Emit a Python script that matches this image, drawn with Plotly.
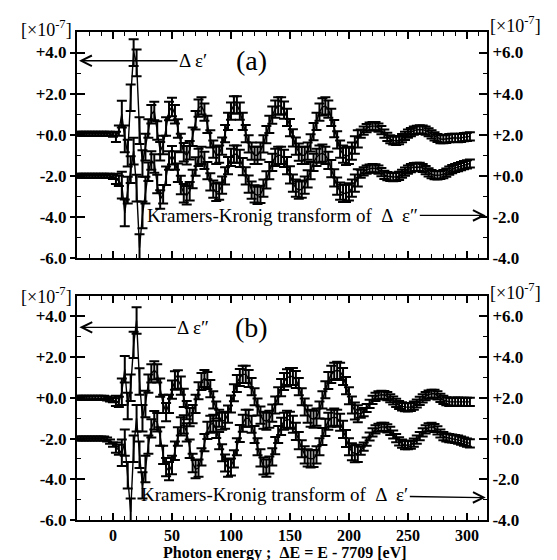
import plotly.graph_objects as go

# Energy grid of the measured points (eV, relative to E0 = 7709 eV)
E_START, E_STEP, N_PTS = -30.0, 2.5, 134
energy = [E_START + E_STEP * i for i in range(N_PTS)]

# Panel (a): measured delta-eps' (left axis, x1e-7)
d_eps1 = [
    0.05, 0.05, 0.05, 0.05, 0.05, 0.05, 0.05, 0.05, 0.05, 0.05,
    0.05, 0.05, 0.0, -0.1, 0.2, 1.0, -0.2, -0.9, 1.8, 4.0,
    3.5, 0.2, -1.4, -0.6, 0.3, 1.0, 1.15, 0.2, -0.8, -0.5,
    0.4, 1.15, 1.35, 1.0, 0.3, -0.4, -0.85, -1.0, -0.75, -0.1,
    0.7, 1.3, 1.4, 1.1, 0.5, -0.2, -0.7, -1.0, -0.95, -0.55,
    0.05, 0.65, 1.15, 1.45, 1.45, 1.15, 0.65, 0.05, -0.45, -0.8,
    -1.0, -1.0, -0.8, -0.45, 0.0, 0.5, 0.95, 1.25, 1.4, 1.4,
    1.2, 0.85, 0.35, -0.15, -0.55, -0.85, -1.0, -1.0, -0.8, -0.4,
    0.15, 0.65, 1.1, 1.35, 1.4, 1.25, 0.85, 0.3, -0.25, -0.7,
    -0.95, -1.05, -1.0, -0.8, -0.5, -0.2, 0.05, 0.2, 0.32, 0.4,
    0.42, 0.42, 0.35, 0.22, 0.05, -0.1, -0.22, -0.28, -0.3, -0.26,
    -0.17, -0.06, 0.05, 0.13, 0.2, 0.24, 0.26, 0.25, 0.2, 0.12,
    0.02, -0.08, -0.16, -0.21, -0.22, -0.2, -0.17, -0.15, -0.15, -0.17,
    -0.15, -0.12, -0.1, -0.08,
]
# Panel (a): Kramers-Kronig transform of delta-eps'' (right axis, x1e-7)
kk_of_eps2 = [
    0.0, 0.0, 0.0, 0.0, 0.0, 0.0, 0.0, 0.0, 0.0, 0.0,
    0.0, 0.0, -0.05, -0.15, -0.25, -0.45, -1.8, -0.7, 0.3, 1.2,
    -0.6, -3.5, -1.9, -0.7, 0.2, 0.75, 0.6, -0.4, -1.15, -0.9,
    0.0, 0.75, 1.0, 0.75, 0.15, -0.45, -0.85, -0.95, -0.75, -0.15,
    0.45, 0.9, 1.0, 0.75, 0.25, -0.3, -0.65, -0.8, -0.75, -0.45,
    0.0, 0.5, 0.9, 1.05, 1.05, 0.85, 0.45, 0.0, -0.4, -0.7,
    -0.88, -0.95, -0.9, -0.6, -0.2, 0.25, 0.65, 0.9, 1.0, 1.0,
    0.85, 0.5, 0.05, -0.35, -0.6, -0.7, -0.65, -0.45, -0.15, 0.25,
    0.65, 0.9, 1.05, 1.1, 1.0, 0.75, 0.35, -0.1, -0.5, -0.75,
    -0.85, -0.86, -0.78, -0.6, -0.35, -0.1, 0.1, 0.22, 0.3, 0.35,
    0.37, 0.36, 0.3, 0.18, 0.05, -0.02, -0.05, -0.06, -0.05, 0.0,
    0.1, 0.2, 0.3, 0.37, 0.42, 0.44, 0.43, 0.38, 0.28, 0.17,
    0.08, 0.03, 0.02, 0.04, 0.08, 0.15, 0.25, 0.33, 0.38, 0.42,
    0.47, 0.52, 0.56, 0.6,
]
err_a = ([0.1] * 13 + [0.25] * 2 + [0.65] * 9 + [0.45] * 17
         + [0.42] * 55 + [0.2] * 38)

# Panel (b): measured delta-eps'' (left axis, x1e-7)
d_eps2 = [
    0.0, 0.0, 0.0, 0.0, 0.0, 0.0, 0.0, 0.0, 0.0, 0.0,
    -0.03, -0.08, -0.12, -0.15, -0.2, 0.3, 1.4, -0.4, 0.5, 2.6,
    3.8, 0.8, -1.0, -0.3, 0.7, 1.2, 1.35, 1.2, 0.5, -0.3,
    -0.7, -0.3, 0.4, 0.85, 0.9, 0.6, 0.0, -0.6, -0.95, -0.8,
    -0.3, 0.35, 0.8, 0.95, 0.85, 0.45, -0.1, -0.6, -1.0, -1.15,
    -1.1, -0.8, -0.3, 0.25, 0.7, 1.0, 1.15, 1.15, 0.95, 0.55,
    0.05, -0.45, -0.85, -1.1, -1.15, -1.05, -0.75, -0.35, 0.1, 0.5,
    0.8, 0.98, 1.05, 1.05, 0.9, 0.55, 0.05, -0.45, -0.8, -1.0,
    -1.05, -0.95, -0.6, -0.1, 0.4, 0.85, 1.15, 1.3, 1.35, 1.3,
    1.05, 0.6, 0.1, -0.35, -0.65, -0.78, -0.78, -0.7, -0.5, -0.3,
    -0.1, 0.05, 0.12, 0.15, 0.14, 0.08, -0.02, -0.13, -0.25, -0.35,
    -0.42, -0.46, -0.47, -0.45, -0.38, -0.28, -0.15, -0.03, 0.08, 0.16,
    0.2, 0.2, 0.12, 0.0, -0.1, -0.17, -0.2, -0.2, -0.19, -0.19,
    -0.2, -0.2, -0.2, -0.2,
]
# Panel (b): Kramers-Kronig transform of delta-eps' (right axis, x1e-7)
kk_of_eps1 = [
    0.0, 0.0, 0.0, 0.0, 0.0, 0.0, 0.0, 0.0, 0.0, 0.0,
    -0.05, -0.15, -0.3, -0.45, -0.55, -0.7, -0.2, -1.8, -3.6, -0.5,
    1.0, -0.8, -2.3, -1.5, -0.3, 0.5, 0.9, 0.8, 0.1, -0.8,
    -1.4, -1.6, -1.3, -0.6, 0.1, 0.6, 0.7, 0.3, -0.5, -1.2,
    -1.5, -1.45, -0.9, -0.2, 0.4, 0.7, 0.75, 0.45, -0.1, -0.7,
    -1.2, -1.45, -1.4, -1.0, -0.4, 0.25, 0.75, 1.0, 1.0, 0.7,
    0.2, -0.4, -0.95, -1.35, -1.45, -1.3, -0.9, -0.35, 0.2, 0.6,
    0.85, 0.95, 0.9, 0.7, 0.35, -0.1, -0.5, -0.8, -0.95, -1.0,
    -0.98, -0.8, -0.4, 0.1, 0.55, 0.85, 1.0, 1.05, 1.0, 0.8,
    0.45, 0.0, -0.4, -0.65, -0.75, -0.73, -0.6, -0.4, -0.15, 0.1,
    0.3, 0.45, 0.53, 0.57, 0.57, 0.5, 0.38, 0.2, 0.02, -0.14,
    -0.25, -0.32, -0.33, -0.3, -0.2, -0.05, 0.12, 0.3, 0.45, 0.55,
    0.57, 0.52, 0.4, 0.25, 0.12, 0.05, 0.02, 0.0, -0.02, -0.05,
    -0.1, -0.15, -0.2, -0.24,
]
err_b = ([0.1] * 13 + [0.25] * 2 + [0.65] * 9 + [0.45] * 17
         + [0.42] * 55 + [0.2] * 38)

left_ticks = [-6, -4, -2, 0, 2, 4]
left_labels = ["-6.0", "-4.0", "-2.0", "+0.0", "+2.0", "+4.0"]
right_ticks = [-4, -2, 0, 2, 4, 6]
right_labels = ["-4.0", "-2.0", "+0.0", "+2.0", "+4.0", "+6.0"]
x_ticks = [0, 50, 100, 150, 200, 250, 300]
x_labels = ["0", "50", "100", "150", "200", "250", "300"]

SERIF = "Liberation Serif"
INK = "black"
tick_font = dict(family=SERIF, size=17, color=INK, weight="bold")
xtick_font = dict(family=SERIF, size=16, color=INK, weight="bold")


def band(x, y, err, xa, ya):
    return go.Scatter(
        x=x, y=y, xaxis=xa, yaxis=ya, mode="lines",
        line=dict(color=INK, width=1.4),
        error_y=dict(type="data", array=err, visible=True,
                     color=INK, thickness=2.0, width=5),
        showlegend=False, hoverinfo="skip",
    )


def ghost(xa, ya):
    return go.Scatter(x=[None], y=[None], xaxis=xa, yaxis=ya,
                      showlegend=False, hoverinfo="skip")


fig = go.Figure()
fig.add_trace(band(energy, d_eps1, err_a, "x", "y"))
fig.add_trace(band(energy, kk_of_eps2, err_a, "x", "y2"))
fig.add_trace(band(energy, d_eps2, err_b, "x2", "y3"))
fig.add_trace(band(energy, kk_of_eps1, err_b, "x2", "y4"))
fig.add_trace(ghost("x", "y5"))
fig.add_trace(ghost("x2", "y6"))

X_RANGE = [-30.5, 317]
L_RANGE = [-6, 5]
R_RANGE = [-4, 7]
DOM_A = [0.5369, 1.0]
DOM_B = [0.0, 0.459]


def xaxis(anchor, labels):
    return dict(
        domain=[0, 1], anchor=anchor, range=X_RANGE,
        tickmode="array", tickvals=x_ticks, ticktext=x_labels,
        showticklabels=labels, tickfont=xtick_font,
        ticks="inside", ticklen=7, tickwidth=1.5, tickcolor=INK,
        minor=dict(dtick=10, tick0=0, ticks="inside", ticklen=4,
                   tickwidth=1.3, tickcolor=INK),
        showline=True, linewidth=2, linecolor=INK, mirror="ticks",
        showgrid=False, zeroline=False,
    )


def yleft(domain, anchor):
    return dict(
        domain=domain, anchor=anchor, range=L_RANGE, side="left",
        tickmode="array", tickvals=left_ticks, ticktext=left_labels,
        tickfont=tick_font, ticks="outside", ticklen=5, tickwidth=1.5,
        tickcolor=INK, showline=True, linewidth=2, linecolor=INK,
        showgrid=False, zeroline=False,
    )


def yleft_inner(over, anchor):
    return dict(
        overlaying=over, anchor=anchor, range=L_RANGE, side="left",
        tick0=-6, dtick=2, showticklabels=False,
        ticks="inside", ticklen=8, tickwidth=1.5, tickcolor=INK,
        minor=dict(dtick=1, tick0=-6, ticks="inside", ticklen=4,
                   tickwidth=1.3, tickcolor=INK),
        showline=False, showgrid=False, zeroline=False,
    )


def yright(over, anchor):
    return dict(
        overlaying=over, anchor=anchor, range=R_RANGE, side="right",
        tickmode="array", tickvals=right_ticks, ticktext=right_labels,
        tickfont=tick_font, ticks="inside", ticklen=8, tickwidth=1.5,
        tickcolor=INK,
        minor=dict(tickvals=[-3, -1, 1, 3, 5], ticks="inside", ticklen=4,
                   tickwidth=1.3, tickcolor=INK),
        showline=True, linewidth=2, linecolor=INK,
        showgrid=False, zeroline=False,
    )


fig.update_layout(
    width=557, height=560,
    margin=dict(l=77, r=70, t=32, b=40),
    paper_bgcolor="white", plot_bgcolor="white",
    xaxis=xaxis("y", False),
    yaxis=yleft(DOM_A, "x"),
    yaxis2=yright("y", "x"),
    yaxis5=yleft_inner("y", "x"),
    xaxis2=xaxis("y3", True),
    yaxis3=yleft(DOM_B, "x2"),
    yaxis4=yright("y3", "x2"),
    yaxis6=yleft_inner("y3", "x2"),
)

txt = dict(family=SERIF, color=INK)
unit = "[×10<sup>-7</sup>]"


def paper_y(py):
    return (520 - py) / 488.0


anns = [
    # unit labels
    dict(text=unit, xref="paper", yref="paper", x=-0.008, y=paper_y(28),
         xanchor="right", yanchor="middle", showarrow=False,
         font=dict(size=18, **txt)),
    dict(text=unit, xref="paper", yref="paper", x=1.003, y=paper_y(25),
         xanchor="left", yanchor="middle", showarrow=False,
         font=dict(size=18, **txt)),
    dict(text=unit, xref="paper", yref="paper", x=-0.008, y=paper_y(295),
         xanchor="right", yanchor="middle", showarrow=False,
         font=dict(size=18, **txt)),
    dict(text=unit, xref="paper", yref="paper", x=1.003, y=paper_y(291),
         xanchor="left", yanchor="middle", showarrow=False,
         font=dict(size=18, **txt)),
    # panel letters
    dict(text="(a)", xref="x", yref="y", x=117, y=3.6, showarrow=False,
         xanchor="center", yanchor="middle", font=dict(size=28, **txt)),
    dict(text="(b)", xref="x2", yref="y3", x=117, y=3.45, showarrow=False,
         xanchor="center", yanchor="middle", font=dict(size=28, **txt)),
    # series labels with arrows
    dict(text="Δ ε′", xref="x", yref="y", x=-28.8, y=3.6,
         ax=114, ay=0, showarrow=True, arrowhead=5, arrowsize=1.6,
         arrowwidth=1.3, arrowcolor=INK, font=dict(size=19, **txt)),
    dict(text="Δ ε″", xref="x2", yref="y3", x=-28.5, y=3.46,
         ax=114, ay=0, showarrow=True, arrowhead=5, arrowsize=1.6,
         arrowwidth=1.3, arrowcolor=INK, font=dict(size=19, **txt)),
    dict(text="Kramers-Kronig transform of  Δ  ε″", xref="x", yref="y",
         x=316, y=-3.93, ax=-203, ay=0, showarrow=True, arrowhead=5,
         arrowsize=1.6, arrowwidth=1.3, arrowcolor=INK,
         font=dict(size=19, **txt)),
    dict(text="Kramers-Kronig transform of  Δ  ε′", xref="x2", yref="y3",
         x=316, y=-4.9, ax=-211, ay=-3, showarrow=True, arrowhead=5,
         arrowsize=1.6, arrowwidth=1.3, arrowcolor=INK,
         font=dict(size=19, **txt)),
    # x axis title
    dict(text="<b>Photon energy ;  ΔE = E - 7709 [eV]</b>", xref="paper",
         yref="paper", x=0.507, y=paper_y(553), xanchor="center",
         yanchor="middle", showarrow=False, font=dict(size=16, **txt)),
]
fig.update_layout(annotations=anns)

fig.write_html("out.html")
